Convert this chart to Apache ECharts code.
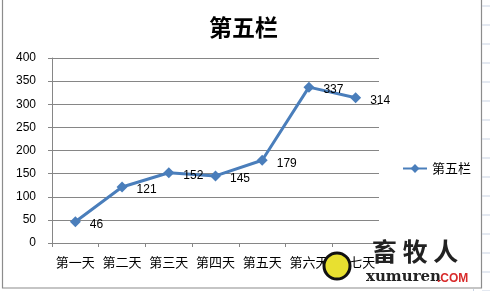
<!DOCTYPE html>
<html><head><meta charset="utf-8">
<script src="https://cdn.jsdelivr.net/npm/echarts@6/dist/echarts.min.js"></script>
<style>html,body{margin:0;padding:0;background:#fff;}#c{width:490px;height:291px;}</style>
</head><body><div id="c"></div>
<script>
var categories = ['第一天','第二天','第三天','第四天','第五天','第六天','第七天'];
var values = [46,121,152,145,179,337,314];
var seriesName = '第五栏';
var yTicks = [0,50,100,150,200,250,300,350,400];

var chart = echarts.init(document.getElementById('c'), null, {renderer:'canvas'});
var gridLines = [];
for (var i = 0; i < 16; i++) {
  gridLines.push({type:'line', shape:{x1:482,y1:6+19*i,x2:490,y2:6+19*i}, style:{stroke:'#c9d3e3',lineWidth:1}, silent:true});
}
var option = {
  backgroundColor:'#fff',
  animation:false,
  title:{text:'第五栏', top:11, left:204,
    textStyle:{fontFamily:'Noto Sans CJK SC', fontSize:23, fontWeight:'bold', color:'#000'}},
  legend:{data:[seriesName], left:397, top:157, orient:'vertical', itemWidth:24, itemHeight:11, itemGap:4,
    textStyle:{fontFamily:'Noto Sans CJK SC', fontSize:13, color:'#000'}},
  grid:{left:52, right:111, top:58, bottom:48, containLabel:false},
  xAxis:{type:'category', data:categories, boundaryGap:true,
    axisLine:{lineStyle:{color:'#868686', width:1}},
    axisTick:{show:true, length:4, lineStyle:{color:'#868686'}, alignWithLabel:false},
    axisLabel:{margin:13, fontFamily:'Noto Sans CJK SC', fontSize:13, color:'#000', interval:0}},
  yAxis:{type:'value', min:0, max:400, interval:50,
    axisLine:{show:true, lineStyle:{color:'#868686', width:1}},
    axisTick:{show:true, length:4, lineStyle:{color:'#868686'}},
    axisLabel:{margin:16, fontFamily:'Liberation Sans', fontSize:12, color:'#000',
      formatter:function(v){return yTicks.indexOf(v)>=0 ? String(v) : '';}},
    splitLine:{show:true, lineStyle:{color:'#868686', width:1}}},
  series:[{name:seriesName, type:'line', data:values, symbol:'diamond', symbolSize:11,
    itemStyle:{color:'#4a7ebb'}, lineStyle:{color:'#4a7ebb', width:3},
    label:{show:true, position:'right', distance:9, offset:[0,3], fontFamily:'Liberation Sans', fontSize:12, color:'#000'}}],
  graphic:[
    {type:'rect', shape:{x:2.5,y:-2,width:479,height:290}, style:{fill:'none', stroke:'#8c8c8c', lineWidth:1.2}, silent:true, z:-1},
    {type:'line', shape:{x1:473.5,y1:289,x2:473.5,y2:291}, style:{stroke:'#c9d3e3'}},
    {type:'circle', shape:{cx:337,cy:266,r:13}, style:{fill:'#e8e030', stroke:'#111', lineWidth:3}, z:10},
    {type:'text', left:372, top:239, style:{text:'畜 牧 人', fontFamily:'Noto Sans CJK SC', fontSize:25, fontWeight:'bold', fill:'#222'}, z:10},
    {type:'text', left:366, top:270, style:{text:'xumuren', fontFamily:'DejaVu Serif', fontSize:15, fontWeight:'bold', fill:'#222'}, z:10},
    {type:'text', left:437, top:273, style:{text:'.COM', fontFamily:'Liberation Sans', fontSize:12, fontWeight:'bold', fill:'#d82a2a'}, z:10}
  ].concat(gridLines)
};
chart.setOption(option);
</script></body></html>
